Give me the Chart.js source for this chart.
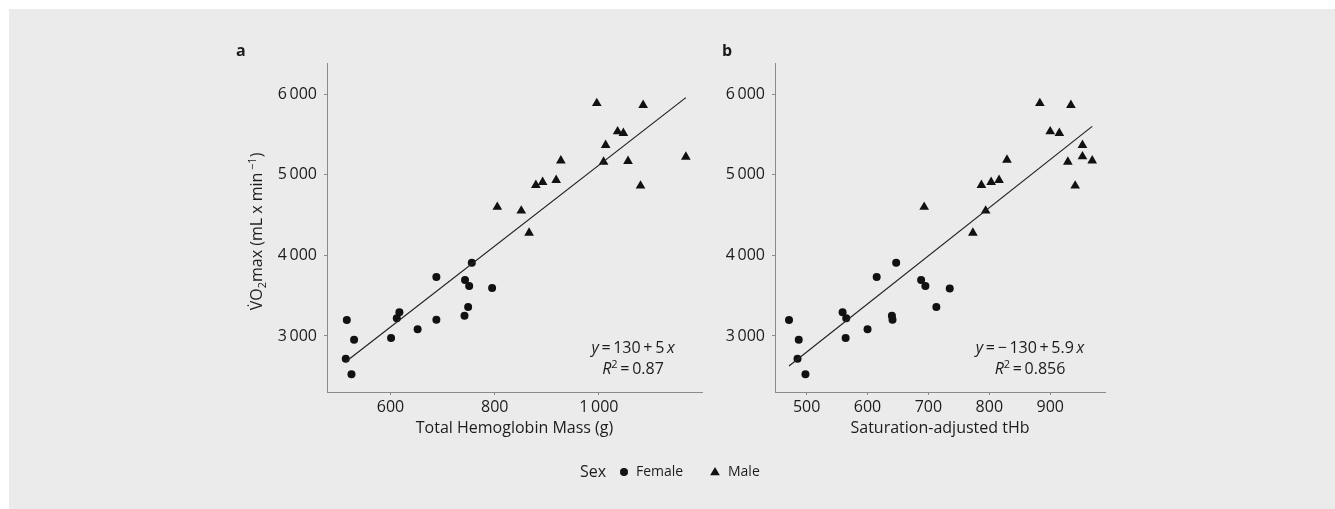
<!DOCTYPE html>
<html><head><meta charset="utf-8">
<script src="https://cdn.jsdelivr.net/npm/chart.js@4.4.0/dist/chart.umd.min.js"></script>
<style>
html,body{margin:0;padding:0;background:#fff;}
#wrap{position:relative;width:1335px;height:509px;overflow:hidden;}
#bg{position:absolute;left:9px;top:9px;width:1326px;height:500px;background:#ebebeb;}
canvas{position:absolute;left:0;top:0;}
</style></head><body>
<div id="wrap"><div id="bg"></div>
<canvas id="ca" width="1335" height="509" style="width:1335px;height:509px"></canvas>
<canvas id="cb" width="1335" height="509" style="width:1335px;height:509px"></canvas>
</div>
<script>
// ---------- data ----------
// Panel a: total hemoglobin mass (g) vs VO2max
const femaleTHbMass = [516, 530, 514, 525, 601, 612, 617, 652, 688, 688, 743, 751, 756, 749, 742, 795];
const femaleVO2a    = [3198, 2954, 2719, 2525, 2975, 3219, 3294, 3083, 3731, 3202, 3694, 3620, 3908, 3359, 3252, 3595];
const maleTHbMass   = [996, 1085, 1036, 1047, 1013, 927, 1009, 1056, 1167, 879, 892, 918, 1080, 805, 851, 866];
const maleVO2a      = [5888, 5864, 5537, 5517, 5368, 5177, 5161, 5170, 5223, 4872, 4910, 4934, 4864, 4600, 4554, 4280];
// Panel b: saturation-adjusted tHb vs VO2max
const femaleSatAdj  = [471, 487, 485, 498, 559, 565, 564, 600, 615, 647, 640, 641, 688, 695, 713, 735];
const femaleVO2b    = [3198, 2954, 2719, 2525, 3294, 3219, 2975, 3083, 3731, 3908, 3252, 3202, 3694, 3620, 3359, 3591];
const maleSatAdj    = [883, 934, 900, 915, 953, 829, 929, 953, 969, 787, 803, 816, 941, 693, 794, 773];
const maleVO2b      = [5888, 5864, 5537, 5517, 5368, 5186, 5161, 5227, 5177, 4872, 4910, 4934, 4864, 4600, 4554, 4280];
// ticks
const yTicks  = [3000, 4000, 5000, 6000];
const xTicksA = [600, 800, 1000];
const xTicksB = [500, 600, 700, 800, 900];
const eqA = {a: '130', b: '5', r2: '0.87'};
const eqB = {a: '\u2212\u2009130', b: '5.9', r2: '0.856'};
const legendTitle = 'Sex';
const sexLabels = ['Female', 'Male'];

const FONT = '"Open Sans", "Noto Sans", sans-serif';
const TXT = '#1c1c1c';
const AXIS = '#8a8a8a';
const R_CIRCLE = 4.0, R_TRI = 5.6;

function fmt(v){ const s = String(v); return s.length > 3 ? s.slice(0, s.length-3) + '\u2009' + s.slice(-3) : s; }
function pts(xs, ys){ return xs.map((x,i)=>({x:x, y:ys[i]})); }
function fit(xs, ys){
  const n = xs.length; let sx=0, sy=0, sxx=0, sxy=0;
  for(let i=0;i<n;i++){ sx+=xs[i]; sy+=ys[i]; sxx+=xs[i]*xs[i]; sxy+=xs[i]*ys[i]; }
  const b = (n*sxy - sx*sy)/(n*sxx - sx*sx); const a = (sy - b*sx)/n;
  const lo = Math.min(...xs), hi = Math.max(...xs);
  return [{x:lo, y:a+b*lo}, {x:hi, y:a+b*hi}];
}

function drawSegs(ctx, segs, cx, y){
  let w = 0;
  segs.forEach(s=>{ ctx.font = s.f; w += ctx.measureText(s.t).width; });
  let x = cx - w/2;
  ctx.textAlign = 'left'; ctx.textBaseline = 'alphabetic';
  segs.forEach(s=>{ ctx.font = s.f; ctx.fillText(s.t, x, y + (s.dy||0)); x += ctx.measureText(s.t).width; });
}

const reg = '16px ' + FONT, ita = 'italic 16px ' + FONT, sup = '11px ' + FONT;

function eqPlugin(eq, label){
  return {
    id: 'eq' + label,
    afterDraw(chart){
      const ctx = chart.ctx, ca = chart.chartArea;
      ctx.save(); ctx.fillStyle = TXT;
      const cx = ca.right - (label === 'a' ? 69 : 75);
      drawSegs(ctx, [{t:'y', f:ita}, {t:'\u2009=\u2009' + eq.a + '\u2009+\u2009' + eq.b + '\u2009', f:reg}, {t:'x', f:ita}], cx, ca.bottom - 39);
      drawSegs(ctx, [{t:'R', f:ita}, {t:'2', f:sup, dy:-6}, {t:'\u2009=\u2009' + eq.r2, f:reg}], cx, ca.bottom - 18);
      ctx.font = 'bold 16px ' + FONT; ctx.textAlign = 'left'; ctx.textBaseline = 'middle';
      ctx.fillText(label, ca.left - (label === 'a' ? 91 : 53), ca.top - 12);
      ctx.restore();
    }
  };
}

const extraA = {
  id: 'extraA',
  afterDraw(chart){
    const ctx = chart.ctx, ca = chart.chartArea;
    ctx.save(); ctx.fillStyle = TXT;
    // y axis title
    ctx.translate(ca.left - 71, (ca.top + ca.bottom)/2 + 4);
    ctx.rotate(-Math.PI/2);
    drawSegs(ctx, [{t:'V\u0307O', f:reg}, {t:'2', f:sup, dy:4}, {t:'max (mL x min\u2009', f:reg}, {t:'\u22121', f:sup, dy:-6}, {t:')', f:reg}], 0, 6);
    ctx.restore();
    // legend
    ctx.save(); ctx.fillStyle = TXT;
    const ly = 472;
    ctx.textBaseline = 'middle'; ctx.textAlign = 'left';
    ctx.font = reg; ctx.fillText(legendTitle, 580, ly);
    ctx.fillStyle = '#111'; ctx.strokeStyle = '#111';
    Chart.helpers.drawPoint(ctx, {pointStyle:'circle', radius:R_CIRCLE, rotation:0, borderWidth:0}, 624, ly);
    ctx.fillStyle = TXT; ctx.font = '14px ' + FONT; ctx.fillText(sexLabels[0], 636, ly);
    ctx.fillStyle = '#111';
    Chart.helpers.drawPoint(ctx, {pointStyle:'triangle', radius:R_TRI, rotation:0, borderWidth:0}, 715, ly + 0.5);
    ctx.fillStyle = TXT; ctx.fillText(sexLabels[1], 728, ly);
    ctx.restore();
  }
};

function makeChart(id, fx, fy, mx, my, xMin, xMax, xTicks, xTitle, leftW, rightPad, plugins){
  return new Chart(document.getElementById(id), {
    type: 'scatter',
    data: { datasets: [
      {label:'Female', data: pts(fx, fy), pointStyle:'circle', pointRadius:R_CIRCLE, backgroundColor:'#111', borderWidth:0, order:1},
      {label:'Male', data: pts(mx, my), pointStyle:'triangle', pointRadius:R_TRI, backgroundColor:'#111', borderWidth:0, order:1},
      {type:'line', label:'fit', data: fit(fx.concat(mx), fy.concat(my)), borderColor:'#222', borderWidth:1.2, pointRadius:0, fill:false, order:0}
    ]},
    options: {
      responsive:false, animation:false, devicePixelRatio:1,
      layout:{padding:{left:0, right:rightPad, top:63, bottom:69}},
      plugins:{legend:{display:false}, tooltip:{enabled:false}},
      scales:{
        x:{type:'linear', min:xMin, max:xMax,
           afterFit(s){ s.height = 48; },
           afterBuildTicks(s){ s.ticks = xTicks.map(v=>({value:v})); },
           grid:{drawOnChartArea:false, drawTicks:true, tickLength:3, color:AXIS},
           border:{display:true, color:AXIS, width:1},
           ticks:{padding:3, color:TXT, font:{family:FONT, size:16}, maxRotation:0, callback:v=>fmt(v)},
           title:{display:true, text:xTitle, color:TXT, font:{family:FONT, size:16}, padding:{top:0, bottom:2}}
        },
        y:{type:'linear', min:2305, max:6388,
           afterFit(s){ s.width = leftW; },
           afterBuildTicks(s){ s.ticks = yTicks.map(v=>({value:v})); },
           grid:{drawOnChartArea:false, drawTicks:true, tickLength:3, color:AXIS},
           border:{display:true, color:AXIS, width:1},
           ticks:{padding:7, color:TXT, font:{family:FONT, size:16}, callback:v=>fmt(v)}
        }
      }
    },
    plugins: plugins
  });
}

makeChart('ca', femaleTHbMass, femaleVO2a, maleTHbMass, maleVO2a, 478, 1198, xTicksA, 'Total Hemoglobin Mass (g)', 327, 1335-702, [eqPlugin(eqA,'a'), extraA]);
makeChart('cb', femaleSatAdj, femaleVO2b, maleSatAdj, maleVO2b, 448, 990, xTicksB, 'Saturation-adjusted tHb', 775, 1335-1105, [eqPlugin(eqB,'b')]);
</script>
</body></html>
